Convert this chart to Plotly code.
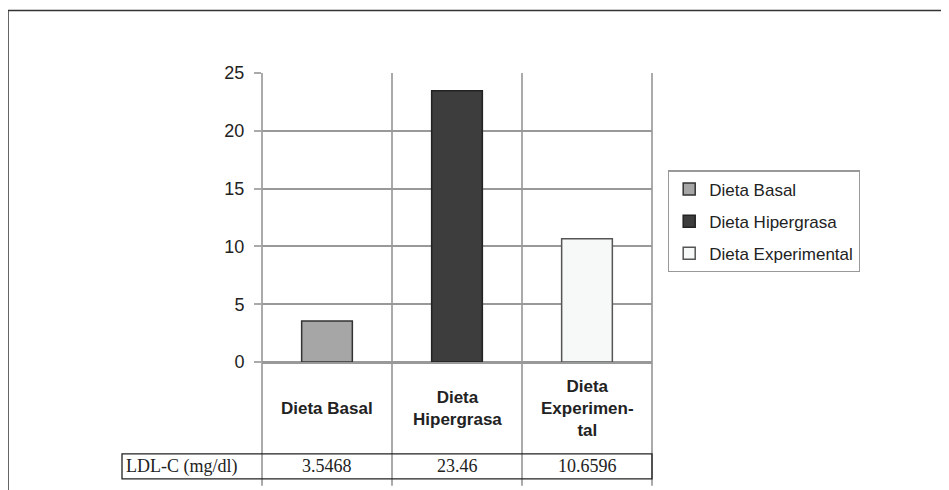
import plotly.graph_objects as go

categories = ["Dieta Basal", "Dieta Hipergrasa", "Dieta Experimental"]
category_labels = ["Dieta Basal", "Dieta<br>Hipergrasa", "Dieta<br>Experimen-<br>tal"]
ldl_values = [3.5468, 23.46, 10.6596]
value_labels = ["3.5468", "23.46", "10.6596"]
row_label = "LDL-C (mg/dl)"
y_ticks = [0, 5, 10, 15, 20, 25]

fills = ["#a6a6a6", "#3d3d3d", "#f7f9f8"]
edges = ["#333333", "#222222", "#555555"]

# page body has an 8px margin; work in screen pixels and shift
OFF = 8
W, H = 949 - OFF, 490 - OFF
L, T = 262 - OFF, 72.5 - OFF
PLOT_R, PLOT_B = 652 - OFF, 362 - OFF
R, B = W - PLOT_R, H - PLOT_B
pw, ph = PLOT_R - L, PLOT_B - T

def px(x):
    return (x - OFF - L) / pw

def py(y):
    return (PLOT_B - (y - OFF)) / ph

fig = go.Figure()
for i, cat in enumerate(categories):
    fig.add_trace(go.Bar(
        x=[cat], y=[ldl_values[i]], name=cat, width=0.39,
        marker=dict(color=fills[i], line=dict(color=edges[i], width=1.5)),
        legendgroup=cat,
    ))

shapes = []
# outer frame
shapes.append(dict(type="rect", xref="paper", yref="paper",
                   x0=px(8), x1=px(960), y0=py(500), y1=py(10),
                   line=dict(color="#333333", width=1.5), layer="below"))
# vertical category boundaries extending into label area
n = len(categories)
for k in range(n + 1):
    shapes.append(dict(type="line", xref="x domain", yref="paper",
                       x0=k / n, x1=k / n, y0=1, y1=py(486),
                       line=dict(color="#aaaaaa", width=2), layer="below"))
# table row
shapes.append(dict(type="rect", xref="paper", yref="paper",
                   x0=px(122), x1=1, y0=py(479), y1=py(454),
                   line=dict(color="#222222", width=1.3), layer="above"))

annotations = []
for i, lab in enumerate(category_labels):
    annotations.append(dict(x=categories[i], y=py(409), xref="x", yref="paper",
                            text=lab, showarrow=False, yanchor="middle",
                            font=dict(family="Liberation Sans, Arial", size=17,
                                      color="#222222", weight="bold")))
    annotations.append(dict(x=categories[i], y=py(466.5), xref="x", yref="paper",
                            text=value_labels[i], showarrow=False, yanchor="middle",
                            font=dict(family="Liberation Serif, Times New Roman", size=18,
                                      color="#222222")))
annotations.append(dict(x=px(124), y=py(466.5), xref="paper", yref="paper",
                        text=row_label, showarrow=False, xanchor="left", yanchor="middle",
                        font=dict(family="Liberation Serif, Times New Roman", size=18,
                                  color="#222222")))

fig.update_layout(
    width=W, height=H,
    margin=dict(l=L, r=R, t=T, b=B, pad=0),
    paper_bgcolor="white", plot_bgcolor="white",
    barmode="overlay",
    showlegend=True,
    legend=dict(x=px(668), y=py(170), xanchor="left", yanchor="top",
                bordercolor="#999999", borderwidth=1.2, bgcolor="white",
                font=dict(family="Liberation Sans, Arial", size=17, color="#222222"),
                tracegroupgap=7, itemclick=False),
    xaxis=dict(showticklabels=False, showgrid=False, zeroline=False,
               showline=False, ticks="", categoryorder="array",
               categoryarray=categories),
    yaxis=dict(range=[0, 25], tickvals=y_ticks, showgrid=True,
               gridcolor="#999999", gridwidth=1.5,
               zeroline=True, zerolinecolor="#999999", zerolinewidth=3,
               showline=False, ticks="outside", ticklen=7, tickcolor="#aaaaaa",
               tickwidth=1.5, ticklabelstandoff=6,
               tickfont=dict(family="Liberation Sans, Arial", size=18, color="#222222")),
    shapes=shapes,
    annotations=annotations,
)

fig.write_html("out.html")
